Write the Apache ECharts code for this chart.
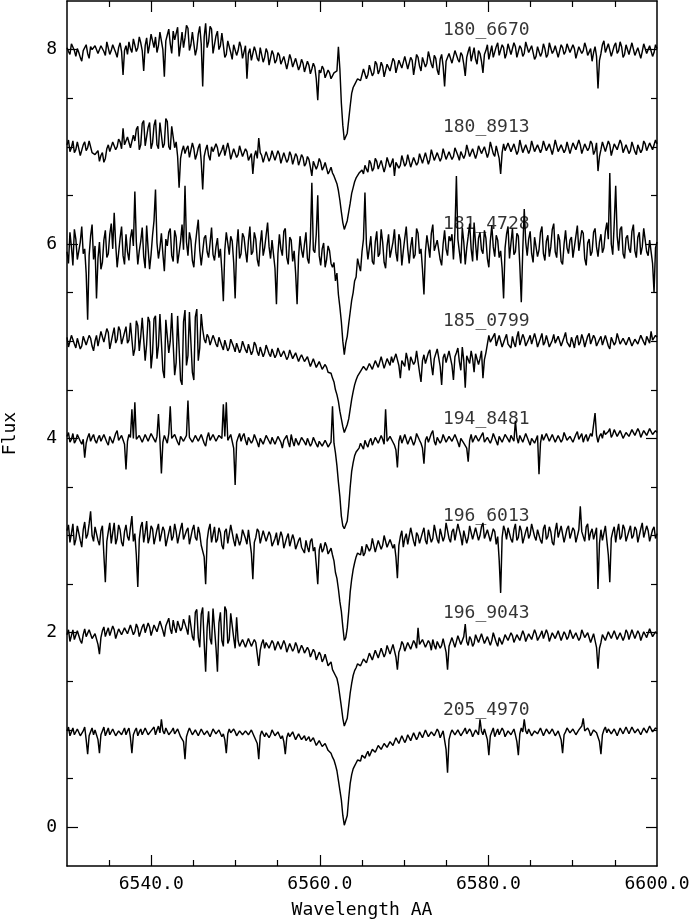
<!DOCTYPE html>
<html><head><meta charset="utf-8">
<script src="https://cdn.jsdelivr.net/npm/echarts@6/dist/echarts.min.js"></script>
<style>html,body{margin:0;padding:0;background:#fff}#c{width:692px;height:919px}</style>
</head><body><div id="c"></div>
<script>
// wavelength grid of the spectra (Angstrom)
const lambdaStart = 6530;
const lambdaStep = 0.175;

const spectrumNames = ['180_6670','180_8913','181_4728','185_0799','194_8481','196_6013','196_9043','205_4970'];
const labelLevels = [8.2, 7.2, 6.2, 5.2, 4.2, 3.2, 2.2, 1.2];
const labelWavelength = 6574.6;

const flux_180_6670 = [
8.02,7.98,7.95,8.06,8.04,7.99,7.93,8.01,7.97,7.92,7.88,7.99,8.01,8.05,7.96,7.91,8.03,8.00,7.98,8.04,
8.05,7.96,7.97,8.04,8.02,7.98,7.94,8.08,8.06,7.95,7.99,8.05,8.03,7.97,7.92,8.02,8.07,7.98,7.74,7.99,
8.04,7.95,8.08,8.01,7.97,8.11,8.10,7.98,8.02,8.13,8.07,7.99,7.78,8.04,8.12,7.96,8.05,8.16,8.14,8.02,
8.13,7.97,8.04,8.18,8.17,8.00,7.72,8.09,8.15,8.21,8.06,7.96,8.19,8.10,8.08,8.23,7.93,8.05,8.18,8.02,
8.12,8.25,8.22,7.99,8.05,8.18,8.20,7.94,8.01,8.16,8.24,8.06,7.62,8.13,8.27,8.02,8.08,8.24,8.21,7.96,
7.98,8.14,8.19,8.00,8.04,8.17,8.15,7.92,7.95,8.09,8.10,7.97,7.90,8.05,8.07,7.94,7.99,8.08,8.03,7.91,
7.93,8.04,7.70,7.96,8.01,7.89,7.90,8.03,7.98,7.91,7.88,8.02,8.00,7.87,7.92,8.01,7.97,7.84,7.86,7.99,
7.95,7.86,7.89,7.97,7.94,7.85,7.84,7.93,7.92,7.80,7.87,7.95,7.90,7.82,7.81,7.91,7.89,7.79,7.83,7.90,
7.86,7.77,7.78,7.88,7.84,7.75,7.80,7.86,7.82,7.70,7.48,7.79,7.76,7.83,7.80,7.71,7.72,7.79,7.76,7.70,
7.71,7.76,7.74,7.78,8.03,7.80,7.45,7.22,7.07,7.06,7.14,7.28,7.42,7.55,7.61,7.64,7.66,7.70,7.72,7.68,
7.69,7.80,7.78,7.70,7.74,7.84,7.82,7.73,7.76,7.88,7.85,7.75,7.79,7.87,7.83,7.72,7.74,7.85,7.86,7.78,
7.80,7.91,7.88,7.76,7.77,7.89,7.90,7.81,7.83,7.93,7.94,7.80,7.79,7.92,7.89,7.74,7.84,7.95,7.92,7.83,
7.78,7.92,7.93,7.82,7.86,7.98,7.97,7.85,7.81,7.94,7.91,7.79,7.74,7.90,7.95,7.83,7.62,7.88,7.90,7.96,
7.96,7.86,7.84,7.99,8.01,7.90,7.87,7.97,7.94,7.85,7.73,7.92,7.98,8.03,7.88,7.95,8.02,7.90,7.85,7.99,
7.96,7.88,7.76,7.95,7.99,8.05,7.90,7.97,8.04,7.92,7.93,8.03,8.07,7.94,7.95,8.05,8.02,7.91,7.96,8.06,
8.05,7.95,7.97,8.07,8.03,7.92,7.94,8.04,8.01,7.93,7.96,8.08,8.06,7.97,7.98,8.04,8.02,7.90,7.93,8.03,
8.04,7.93,7.97,8.06,8.01,7.92,7.95,8.07,8.05,7.96,7.99,8.04,8.03,7.92,7.94,8.05,8.02,7.95,7.98,8.06,
8.06,7.97,7.96,8.05,8.01,7.91,7.93,8.03,8.04,7.96,7.99,8.07,8.02,7.94,7.95,8.01,7.88,7.97,8.03,7.93,
7.60,7.89,7.96,8.05,8.09,7.97,7.98,8.06,8.05,7.93,7.94,8.04,8.07,7.96,7.99,8.08,8.03,7.92,7.95,8.05,
8.04,7.95,7.97,8.07,8.06,7.94,7.92,8.02,8.03,7.91,7.98,8.06,8.05,7.96,7.94,8.04,8.02,7.93,7.97,8.05,
8.01];

const flux_180_8913 = [
7.02,7.07,6.95,6.99,7.06,6.94,6.97,7.05,7.03,6.91,6.93,7.02,7.05,6.96,6.99,7.06,7.04,6.94,6.96,6.92,
6.90,6.96,6.85,6.91,6.94,6.84,6.88,6.98,7.02,6.95,6.96,7.05,7.07,6.97,7.00,7.08,7.05,6.98,7.19,7.02,
7.01,7.10,7.08,6.99,6.98,7.12,7.06,7.18,7.21,6.97,7.02,7.24,7.27,7.01,6.99,7.20,7.25,6.98,7.04,7.22,
7.28,7.02,6.98,7.25,7.23,6.99,7.03,7.29,7.26,7.00,6.97,7.21,7.22,6.99,7.05,6.90,6.58,6.88,6.96,7.01,
6.93,6.98,7.01,6.89,6.90,7.04,6.98,6.87,6.92,6.99,7.03,6.85,6.56,6.90,6.97,7.02,6.91,6.86,7.00,6.95,
6.94,7.03,6.99,6.90,6.89,6.97,7.02,6.91,6.93,7.04,6.97,6.87,6.88,6.98,6.96,6.89,6.92,7.01,6.99,6.90,
6.90,6.98,6.95,6.86,6.87,6.93,6.72,6.90,6.96,6.88,7.09,6.94,6.91,6.84,6.86,6.95,6.94,6.85,6.89,6.96,
6.95,6.86,6.88,6.96,6.92,6.83,6.85,6.94,6.93,6.84,6.87,6.95,6.91,6.82,6.84,6.93,6.90,6.81,6.86,6.92,
6.89,6.80,6.83,6.90,6.87,6.79,6.70,6.85,6.86,6.77,6.81,6.88,6.84,6.76,6.79,6.84,6.78,6.72,6.75,6.79,
6.73,6.70,6.68,6.62,6.55,6.45,6.33,6.22,6.15,6.17,6.24,6.33,6.42,6.52,6.58,6.64,6.68,6.66,6.73,6.71,
6.76,6.72,6.81,6.77,6.74,6.86,6.83,6.75,6.78,6.88,6.85,6.77,6.76,6.86,6.84,6.74,6.80,6.89,6.87,6.79,
6.79,6.88,6.70,6.84,6.86,6.78,6.81,6.91,6.89,6.80,6.83,6.92,6.90,6.79,6.80,6.89,6.88,6.81,6.84,6.93,
6.91,6.83,6.85,6.94,6.93,6.82,6.87,6.97,6.95,6.86,6.84,6.94,6.92,6.85,6.89,6.98,6.96,6.87,6.88,6.95,
6.94,6.87,6.90,6.99,7.00,6.91,6.86,6.95,6.97,6.88,6.92,7.02,7.01,6.90,6.89,6.98,6.96,6.88,6.93,7.01,
7.02,6.93,6.91,7.00,6.98,6.89,6.94,7.05,7.04,6.93,6.90,7.01,6.99,6.88,6.72,6.94,7.03,6.96,6.95,7.04,
7.05,6.95,6.93,7.03,7.01,6.92,6.96,7.07,7.06,6.94,6.92,7.02,7.03,6.93,6.97,7.06,7.05,6.95,6.94,7.02,
7.04,6.94,6.98,7.06,7.07,6.96,6.95,7.03,7.02,6.92,6.99,7.07,7.06,6.95,6.93,7.02,7.04,6.94,6.97,7.05,
7.03,6.93,6.95,7.04,7.06,6.97,6.98,7.07,7.02,6.93,6.94,7.03,7.05,6.96,6.99,7.06,7.03,6.92,6.96,7.04,
6.75,6.90,6.97,7.05,7.04,6.95,6.96,7.06,7.02,6.91,6.93,7.03,7.05,6.97,6.98,7.07,7.03,6.94,6.95,7.02,
7.01,6.93,6.96,7.05,7.04,6.95,6.92,7.02,7.00,6.94,6.97,7.06,7.03,6.96,6.95,7.04,7.06,6.97,6.98,7.07,
7.03];

const flux_181_4728 = [
5.92,5.80,6.12,5.97,5.78,6.15,6.05,5.84,5.86,6.02,6.18,5.90,5.95,5.70,5.22,5.88,6.08,6.20,5.84,5.98,
5.44,5.85,6.02,5.74,5.81,6.04,6.14,5.86,5.90,6.10,6.21,5.95,6.32,6.00,5.76,5.91,6.06,6.18,5.88,5.79,
6.10,5.92,5.83,6.06,6.15,5.98,6.54,6.02,5.79,5.93,6.03,6.17,5.87,5.75,6.19,5.95,5.74,5.89,6.09,6.24,
6.56,6.01,5.85,5.96,6.11,5.90,5.72,6.05,5.98,6.12,6.16,5.88,5.82,6.14,6.07,5.80,5.91,6.03,6.20,5.94,
6.60,6.02,5.88,6.12,6.04,5.83,5.76,5.99,6.13,6.25,5.93,5.78,5.80,6.06,6.09,5.92,5.86,6.01,6.17,5.89,
5.83,5.97,6.06,5.86,5.95,5.72,5.41,5.94,6.12,6.01,5.89,6.08,6.03,5.81,5.44,5.96,6.15,5.85,5.90,6.11,
6.07,5.93,5.81,6.03,6.18,5.89,5.92,6.12,6.05,5.84,5.77,6.00,6.14,5.88,5.96,6.09,6.22,5.97,5.85,6.04,
6.02,5.75,5.38,5.90,6.10,5.95,5.88,6.13,6.16,5.86,5.79,6.07,6.04,5.82,5.93,5.70,5.38,5.87,6.08,5.94,
5.86,6.00,6.12,5.85,5.80,6.05,6.63,5.94,5.91,6.10,6.50,5.88,5.78,5.95,6.01,5.76,5.84,5.98,5.93,5.80,
5.76,5.81,5.62,5.70,5.48,5.35,5.20,5.00,4.86,4.98,5.05,5.18,5.30,5.42,5.50,5.62,5.66,5.85,5.78,5.72,
5.92,6.05,6.53,6.00,5.84,5.96,6.08,5.82,5.79,6.02,6.13,5.87,5.90,6.15,6.02,5.81,5.75,5.98,6.10,5.86,
5.87,6.02,6.15,5.91,5.82,6.10,6.04,5.78,5.93,6.06,6.18,5.95,5.80,5.97,6.07,5.85,5.89,6.16,6.11,5.90,
5.95,5.74,5.48,5.92,6.09,5.98,5.86,6.11,6.20,5.93,5.91,6.04,6.05,5.84,5.78,6.00,6.14,5.95,5.88,6.08,
6.03,6.10,5.84,6.12,6.70,6.05,5.92,5.80,6.17,6.02,5.79,5.96,6.08,6.21,5.95,5.82,6.22,6.00,5.83,6.06,
6.12,5.94,5.90,6.14,6.06,5.85,5.76,6.03,6.19,5.97,5.87,6.09,6.04,5.86,5.93,5.75,5.44,5.96,6.10,6.18,
5.85,6.01,6.16,5.89,5.92,6.11,6.08,5.78,5.40,5.94,6.36,6.02,5.88,6.05,6.13,5.90,5.81,6.07,6.06,5.87,
5.94,6.12,6.18,5.90,5.83,6.03,6.09,5.87,5.97,6.15,6.21,5.92,5.86,6.10,6.04,5.82,5.79,6.00,6.14,5.96,
5.90,6.04,6.07,5.86,5.84,6.08,6.19,5.93,5.95,6.14,6.11,5.85,5.78,6.01,6.05,5.88,5.92,6.12,6.16,5.97,
5.87,6.02,6.10,5.91,5.96,6.13,6.22,6.05,6.73,6.00,5.89,6.21,6.60,6.08,5.93,6.15,6.18,5.90,5.85,6.06,
6.09,5.95,5.91,6.13,6.20,5.93,5.86,6.07,6.12,5.89,5.97,6.16,6.15,5.92,5.88,6.04,6.05,5.80,5.50,5.96,
6.02];

const flux_185_0799 = [
5.04,4.94,4.96,5.06,5.08,4.97,4.93,5.03,5.01,4.92,4.95,5.05,5.07,4.96,4.98,5.06,5.03,4.95,4.90,5.00,
5.06,4.95,4.97,5.10,5.12,4.99,5.00,5.13,5.09,4.92,4.94,5.07,5.14,4.98,5.02,5.15,5.11,4.97,4.96,5.09,
5.15,4.98,5.01,5.19,5.18,4.85,4.92,5.21,5.16,4.90,5.05,5.24,5.22,4.80,4.97,5.25,5.20,4.72,4.88,5.23,
5.26,4.82,4.95,5.28,5.30,4.70,4.62,5.22,5.24,4.88,5.00,5.29,5.31,4.65,4.78,5.26,5.27,4.60,4.55,5.20,
5.32,4.75,4.85,5.30,5.29,4.68,4.60,5.25,5.33,4.80,4.93,5.28,5.12,5.02,4.98,5.07,5.04,4.96,4.95,5.06,
5.02,4.97,4.94,5.04,5.06,4.95,4.91,5.01,4.99,4.90,4.93,5.02,5.03,4.94,4.89,4.98,4.97,4.88,4.92,5.00,
4.98,4.91,4.88,4.97,4.95,4.86,4.90,4.99,4.96,4.89,4.85,4.94,4.93,4.84,4.88,4.96,4.94,4.87,4.84,4.92,
4.91,4.83,4.86,4.93,4.92,4.84,4.82,4.90,4.89,4.81,4.84,4.91,4.90,4.82,4.80,4.88,4.87,4.79,4.83,4.86,
4.85,4.79,4.78,4.84,4.83,4.74,4.76,4.82,4.81,4.73,4.72,4.79,4.77,4.71,4.70,4.76,4.73,4.68,4.66,4.67,
4.62,4.58,4.50,4.45,4.38,4.28,4.20,4.12,4.06,4.08,4.14,4.20,4.30,4.40,4.48,4.55,4.60,4.64,4.66,4.69,
4.70,4.74,4.76,4.70,4.68,4.77,4.79,4.71,4.72,4.80,4.81,4.73,4.75,4.84,4.83,4.72,4.74,4.82,4.80,4.75,
4.84,4.78,4.76,4.87,4.86,4.75,4.62,4.80,4.82,4.74,4.88,4.81,4.70,4.84,4.85,4.76,4.79,4.90,4.89,4.68,
4.58,4.80,4.86,4.77,4.78,4.88,4.91,4.76,4.65,4.82,4.84,4.92,4.90,4.74,4.55,4.83,4.87,4.78,4.80,4.90,
4.92,4.75,4.60,4.84,4.88,4.93,4.79,4.70,4.94,4.80,4.52,4.85,4.86,4.77,4.90,4.82,4.68,4.87,4.89,4.76,
4.82,4.90,4.62,4.81,4.88,4.97,5.06,4.99,4.98,5.05,5.08,4.95,4.96,5.06,5.04,4.94,4.95,5.03,5.07,4.97,
4.99,4.93,5.05,4.98,4.94,5.04,5.10,4.96,4.97,5.07,5.03,4.95,4.93,5.02,5.06,4.97,4.98,5.08,5.02,4.94,
4.95,5.03,5.08,4.96,4.99,5.06,5.04,4.94,4.92,5.01,5.07,4.98,4.97,5.05,5.03,4.95,4.94,5.04,5.09,4.99,
4.98,4.94,5.04,4.99,4.93,5.03,5.06,4.96,4.99,5.07,5.02,4.94,4.95,5.05,5.08,4.97,4.97,5.06,5.03,4.95,
4.94,5.02,5.05,4.96,4.98,5.06,5.07,4.95,4.92,5.04,5.03,4.96,4.99,5.08,5.06,4.97,4.95,5.03,5.02,4.96,
4.97,5.04,5.05,4.95,4.93,5.02,5.04,4.97,4.98,5.06,5.08,4.99,4.96,5.05,5.03,4.98,5.10,5.01,4.99,5.06,
5.04];

const flux_194_8481 = [
4.02,4.06,3.96,3.99,4.05,3.95,3.98,4.04,4.03,3.97,3.94,3.99,3.80,3.95,4.01,4.05,3.97,4.01,4.04,3.98,
3.95,4.00,4.03,3.97,3.99,4.04,4.06,3.96,3.93,4.02,4.01,3.95,3.97,4.05,4.08,3.98,3.96,4.03,4.02,3.94,
3.68,3.97,4.04,4.01,4.30,4.00,4.37,3.99,3.97,4.03,4.05,3.96,3.94,4.04,4.02,3.97,3.98,4.05,4.06,3.99,
3.96,4.02,4.25,3.98,3.64,3.96,4.03,3.99,3.95,4.05,4.33,4.00,3.99,4.04,4.04,3.96,3.93,4.02,4.01,3.97,
3.97,4.03,4.39,4.01,4.02,3.96,3.94,4.03,4.05,3.97,3.98,4.04,4.03,3.95,3.92,4.01,4.06,3.98,3.99,4.04,
4.02,3.97,3.95,4.03,4.04,4.00,4.35,4.02,4.37,3.98,3.96,4.04,4.03,3.90,3.52,3.96,4.01,4.05,3.97,4.02,
4.05,3.98,3.93,4.01,4.02,3.95,3.98,4.04,4.06,3.96,3.91,4.00,4.01,3.94,3.96,4.03,4.04,3.97,3.94,4.01,
4.00,3.94,3.95,4.02,4.03,3.96,3.90,3.98,3.99,4.03,3.96,3.91,4.04,3.97,3.92,4.00,3.98,3.93,3.94,4.01,
4.01,3.96,3.93,4.00,3.98,3.92,3.95,4.01,4.00,3.94,3.91,3.97,3.97,3.92,3.94,3.98,3.95,3.91,3.93,3.96,
4.33,3.95,3.85,3.72,3.55,3.40,3.20,3.10,3.07,3.09,3.15,3.30,3.50,3.66,3.75,3.82,3.86,3.88,3.90,3.95,
3.93,3.89,3.98,3.94,3.91,3.97,4.00,3.93,3.94,4.01,4.02,3.95,3.96,4.03,3.99,3.94,4.30,3.97,3.95,4.02,
4.01,3.96,3.93,3.88,3.70,3.97,4.03,3.95,3.96,4.04,4.05,3.94,3.92,4.02,4.01,3.93,3.97,4.05,4.04,3.98,
3.95,3.90,3.74,3.98,4.02,3.96,3.97,4.05,4.08,3.97,3.93,4.01,4.03,3.95,3.98,4.04,4.06,3.96,3.94,4.02,
4.02,3.97,3.96,4.04,4.05,3.96,3.91,4.00,4.01,3.95,3.97,3.90,3.76,3.98,4.04,3.96,3.95,4.03,4.03,3.97,
3.98,4.03,4.06,3.96,3.94,4.01,4.02,3.95,3.99,4.05,4.07,3.97,3.93,4.02,4.03,3.96,3.97,4.04,4.05,3.99,
3.96,4.03,4.02,3.97,4.18,4.01,3.95,4.03,4.04,3.96,3.98,4.05,4.06,3.97,3.93,4.00,4.01,3.95,3.97,4.03,
3.63,3.95,4.04,3.98,3.96,4.05,4.03,3.97,3.98,4.04,4.06,3.96,3.94,4.03,4.02,3.96,3.99,4.06,4.05,3.98,
3.97,4.02,4.03,3.96,3.95,4.04,4.07,3.99,4.00,4.05,3.96,4.01,4.04,3.97,3.98,4.05,4.02,4.00,4.26,4.03,
3.96,4.02,4.05,4.00,4.08,4.04,4.02,4.07,4.10,4.01,4.04,4.09,4.09,4.02,4.03,4.08,4.07,4.00,4.01,4.06,
4.08,4.02,4.03,4.09,4.10,4.03,4.04,4.10,4.07,4.01,4.02,4.08,4.09,4.03,4.05,4.10,4.11,4.04,4.03,4.08,
4.06];

const flux_196_6013 = [
3.05,3.11,2.93,3.02,3.12,2.90,2.96,3.10,3.08,2.95,2.88,3.06,3.14,2.97,3.01,3.12,3.25,3.00,2.94,3.09,
3.07,2.95,2.90,3.05,3.10,2.80,2.52,2.94,3.04,3.13,2.92,3.03,3.13,2.91,2.97,3.11,3.06,2.93,2.89,3.04,
3.11,2.99,2.95,3.08,3.20,2.94,3.02,2.80,2.47,2.96,3.09,3.14,2.93,3.03,3.15,2.92,2.98,3.10,3.07,2.91,
2.91,3.06,3.12,2.94,2.96,3.09,3.05,2.89,2.87,3.03,3.10,2.95,2.99,3.12,3.04,2.92,2.90,3.07,3.13,2.96,
2.97,3.05,3.08,2.91,2.92,3.06,3.11,2.98,2.95,3.09,3.02,2.90,2.88,2.78,2.50,2.95,3.06,3.12,2.93,3.01,
3.09,2.93,2.96,3.08,3.03,2.90,2.86,3.04,3.07,2.92,2.94,3.11,3.10,2.95,2.89,3.02,3.01,2.90,2.95,3.06,
3.05,2.97,2.91,3.06,3.08,2.82,2.55,2.93,2.98,3.07,3.04,2.92,2.90,3.05,3.07,2.94,2.93,3.04,3.00,2.89,
2.88,2.97,3.03,2.90,2.92,3.04,2.99,2.87,2.85,2.98,3.02,2.89,2.91,3.01,2.96,2.86,2.84,2.95,2.98,2.88,
2.90,2.82,2.95,2.88,2.83,2.94,2.97,2.84,2.88,2.70,2.50,2.85,2.92,2.83,2.86,2.93,2.89,2.81,2.84,2.87,
2.80,2.74,2.62,2.56,2.45,2.32,2.22,2.06,1.92,1.95,2.05,2.22,2.42,2.55,2.65,2.72,2.78,2.82,2.84,2.80,
2.89,2.79,2.82,2.91,2.93,2.84,2.87,2.97,2.96,2.83,2.85,2.95,2.94,2.86,2.90,3.00,2.98,2.88,2.86,2.96,
2.95,2.87,2.91,2.78,2.56,2.90,2.99,3.05,2.88,2.97,3.02,2.91,2.93,3.08,3.06,2.94,2.89,3.03,3.00,2.92,
2.94,3.03,3.08,2.95,2.91,3.06,3.04,2.93,2.97,3.11,3.10,2.96,2.92,3.07,3.05,2.94,2.99,3.13,3.12,2.97,
2.93,3.04,3.07,2.95,2.96,3.12,3.14,2.99,2.90,3.05,3.03,2.92,2.98,3.10,3.11,2.96,2.94,3.08,3.06,2.95,
3.00,3.09,3.13,2.97,2.95,3.06,3.08,2.94,2.92,3.07,3.04,2.91,2.99,2.75,2.41,2.98,3.10,3.05,2.96,3.08,
3.07,2.96,2.93,3.06,3.12,2.95,2.98,3.10,3.05,2.92,2.91,3.04,3.09,2.97,3.01,3.12,3.14,2.99,2.95,3.06,
3.06,2.95,2.92,3.07,3.11,2.96,2.99,3.09,3.04,2.93,2.90,3.05,3.13,2.98,2.97,3.10,3.08,2.93,2.94,3.07,
3.10,2.97,2.96,3.08,3.05,2.93,2.91,3.06,3.30,3.04,3.02,2.94,3.09,3.12,2.95,3.03,3.07,2.96,2.98,3.08,
2.45,2.92,3.06,2.95,2.97,3.10,3.11,2.80,2.52,2.97,3.04,3.09,2.93,3.04,3.12,2.96,2.99,3.11,3.07,2.94,
2.95,3.05,3.10,2.97,3.00,3.09,3.06,2.93,2.92,3.07,3.13,2.98,2.98,3.10,3.05,2.94,2.94,3.06,3.09,2.97,
3.02];

const flux_196_9043 = [
1.98,2.03,1.91,1.97,2.03,1.93,1.94,2.02,2.00,1.92,1.89,1.98,2.04,1.96,1.95,2.03,2.01,1.94,1.93,1.99,
1.97,1.88,1.78,1.95,2.02,2.06,1.96,2.01,2.05,1.97,1.99,2.07,2.03,1.94,1.95,2.04,2.06,1.98,2.00,2.05,
2.04,1.99,1.97,2.08,2.07,1.98,2.01,2.09,2.05,1.96,1.98,2.06,2.09,2.00,2.02,2.10,2.06,1.97,1.99,2.08,
2.08,2.01,2.03,2.12,2.11,2.02,1.96,2.07,2.09,2.15,2.04,1.99,2.13,2.05,2.00,2.12,2.10,2.02,2.05,2.14,
2.14,2.04,1.98,2.18,2.20,1.96,1.92,2.21,2.24,1.95,1.85,2.19,2.26,1.90,1.60,2.05,2.22,1.94,1.88,2.25,
2.25,1.85,1.60,2.10,2.21,1.92,1.86,2.27,2.23,1.89,1.93,2.20,2.18,1.95,1.84,2.16,1.92,1.86,1.87,1.93,
1.91,1.85,1.86,1.94,1.93,1.86,1.88,1.93,1.90,1.78,1.66,1.82,1.89,1.93,1.84,1.90,1.91,1.84,1.86,1.92,
1.89,1.82,1.83,1.91,1.90,1.83,1.85,1.92,1.88,1.80,1.81,1.89,1.87,1.81,1.84,1.90,1.86,1.79,1.80,1.87,
1.84,1.79,1.78,1.85,1.82,1.75,1.76,1.83,1.80,1.72,1.74,1.80,1.77,1.70,1.73,1.78,1.72,1.66,1.68,1.70,
1.62,1.60,1.56,1.53,1.46,1.35,1.24,1.12,1.04,1.06,1.12,1.25,1.38,1.48,1.56,1.61,1.64,1.68,1.70,1.66,
1.68,1.73,1.75,1.69,1.71,1.79,1.78,1.72,1.74,1.82,1.81,1.74,1.76,1.84,1.83,1.75,1.79,1.87,1.85,1.78,
1.80,1.88,1.86,1.75,1.62,1.80,1.84,1.91,1.88,1.81,1.82,1.90,1.90,1.83,1.85,1.92,1.89,1.84,2.05,1.88,
1.86,1.93,1.91,1.85,1.84,1.92,1.89,1.82,1.93,1.87,1.83,1.91,1.90,1.84,1.87,1.94,1.92,1.80,1.62,1.86,
1.88,1.95,1.94,1.85,1.86,1.97,1.95,1.88,1.90,1.96,2.09,1.91,1.87,1.96,1.93,1.86,1.89,1.98,1.96,1.90,
1.91,1.99,1.97,1.89,1.88,1.96,1.95,1.87,1.92,2.00,1.98,1.90,1.86,1.95,1.94,1.88,1.90,1.98,1.99,1.92,
1.93,2.00,1.97,1.90,1.89,1.98,2.00,1.92,1.94,2.02,1.98,1.91,1.91,1.99,2.01,1.93,1.95,2.03,1.99,1.92,
1.92,1.98,2.02,1.94,1.96,2.03,1.99,1.91,1.93,2.00,2.01,1.94,1.95,2.02,2.00,1.92,1.94,2.01,1.98,1.93,
1.96,2.03,2.01,1.94,1.93,2.00,1.99,1.92,1.95,2.03,2.02,1.95,1.94,2.00,1.98,1.90,1.92,1.99,1.97,1.85,
1.63,1.84,1.90,1.98,1.97,1.92,1.93,2.01,2.00,1.94,1.95,2.02,2.01,1.93,1.94,2.00,1.99,1.92,1.96,2.03,
2.00,1.93,1.95,2.03,2.02,1.94,1.96,2.02,1.99,1.92,1.94,2.01,2.01,1.95,1.97,2.04,2.03,1.96,1.95,2.01,
1.99];

const flux_205_4970 = [
0.99,1.03,0.94,0.98,1.02,0.95,0.96,1.01,1.00,0.94,0.93,0.99,1.03,0.90,0.75,0.94,0.98,1.02,0.95,1.00,
1.01,0.90,0.76,0.95,0.99,1.03,0.94,0.98,1.02,0.95,0.96,1.01,1.00,0.94,0.92,0.99,1.01,0.95,0.97,1.02,
0.95,0.99,1.02,0.92,0.76,0.95,0.99,1.02,0.94,0.98,1.01,0.95,0.96,1.02,1.03,0.95,0.93,0.99,0.99,1.03,
0.95,1.00,1.04,0.97,1.11,0.99,0.96,1.02,1.00,0.95,0.93,0.99,1.02,0.96,0.97,1.01,0.99,0.93,0.94,0.88,
0.70,0.93,0.98,1.02,1.01,0.95,0.94,1.00,0.99,0.94,0.96,1.01,1.02,0.95,0.93,0.99,0.98,0.93,0.95,1.01,
1.00,0.96,0.94,1.00,0.99,0.93,0.96,0.90,0.76,0.96,1.01,0.97,0.95,1.01,0.98,0.94,0.93,0.99,1.00,0.95,
0.96,0.99,1.01,0.95,0.94,1.00,0.98,0.93,0.95,0.86,0.70,0.94,0.99,1.01,0.93,0.97,0.97,0.92,0.95,1.00,
0.99,0.94,0.92,0.98,0.96,0.91,0.94,0.88,0.75,0.92,0.97,0.93,0.93,0.98,0.96,0.90,0.91,0.96,0.95,0.90,
0.92,0.94,0.89,0.91,0.93,0.88,0.87,0.92,0.90,0.84,0.85,0.89,0.88,0.83,0.82,0.86,0.84,0.79,0.78,0.76,
0.72,0.69,0.64,0.58,0.48,0.38,0.28,0.12,0.02,0.04,0.12,0.30,0.45,0.54,0.60,0.63,0.66,0.69,0.70,0.68,
0.74,0.76,0.71,0.75,0.78,0.73,0.75,0.80,0.82,0.77,0.79,0.84,0.85,0.80,0.81,0.86,0.87,0.82,0.84,0.88,
0.89,0.84,0.85,0.92,0.91,0.86,0.88,0.94,0.93,0.87,0.90,0.95,0.95,0.89,0.91,0.97,0.96,0.90,0.93,0.98,
0.98,0.92,0.94,1.00,0.99,0.93,0.92,0.98,1.00,0.94,0.95,1.01,0.98,0.92,0.93,0.99,0.97,0.80,0.56,0.90,
0.96,1.00,1.01,0.95,0.94,1.00,0.99,0.94,0.93,0.99,1.02,0.96,0.96,1.01,0.98,0.93,0.94,1.00,1.00,0.95,
1.11,0.99,0.95,1.01,1.00,0.90,0.74,0.94,0.98,1.02,0.93,0.97,1.01,0.95,0.96,1.02,0.99,0.93,0.94,0.99,
1.00,0.95,0.97,1.01,0.95,0.88,0.74,0.96,1.02,0.98,1.11,0.99,0.96,1.01,0.99,0.94,0.94,0.99,1.01,0.96,
0.97,1.02,1.00,0.94,0.95,1.01,1.02,0.96,0.96,1.01,0.99,0.94,0.93,0.99,1.01,0.90,0.76,0.95,0.98,1.02,
1.02,0.97,0.96,1.01,1.00,0.95,0.94,1.00,1.01,1.04,1.12,0.99,0.97,1.02,0.99,0.94,0.95,1.00,1.02,0.97,
0.96,0.88,0.75,0.95,1.00,1.03,0.97,1.01,1.03,0.96,0.95,1.01,0.99,0.94,0.96,1.02,1.02,0.96,0.97,1.03,
1.01,0.96,0.98,1.03,1.03,0.97,0.96,1.01,1.00,0.95,0.97,1.02,1.02,0.97,0.99,1.04,1.04,0.98,0.98,1.02,
1.01];

const spectra = [flux_180_6670, flux_180_8913, flux_181_4728, flux_185_0799,
                 flux_194_8481, flux_196_6013, flux_196_9043, flux_205_4970];

// axis ticks and labels
const xRange = [6530, 6600];
const yRange = [-0.4, 8.5];
const xLabelValues = [6540, 6560, 6580, 6600];
const xMajorTicks = [6540, 6560, 6580];
const xMinorTicks = [6535, 6545, 6550, 6555, 6565, 6570, 6575, 6585, 6590, 6595];
const yLabelValues = [0, 2, 4, 6, 8];
const yMinorTicks = [0.5, 1, 1.5, 2.5, 3, 3.5, 4.5, 5, 5.5, 6.5, 7, 7.5];

const FONT = 'DejaVu Sans Mono';
const black = '#000';

function xAxisDef(pos, ticks, len, withLabels) {
  return {
    type: 'value', position: pos, min: xRange[0], max: xRange[1],
    axisLine: { show: withLabels, onZero: false, lineStyle: { color: black, width: 1.5 } },
    splitLine: { show: false },
    axisTick: { show: true, inside: true, length: len, customValues: ticks, lineStyle: { color: black, width: 1.2 } },
    axisLabel: withLabels && pos === 'bottom' ? {
      show: true, customValues: xLabelValues, formatter: v => Number(v).toFixed(1),
      margin: 9, color: black, fontFamily: FONT, fontSize: 18
    } : { show: false },
    name: withLabels && pos === 'bottom' ? 'Wavelength AA' : '',
    nameLocation: 'middle', nameGap: 35,
    nameTextStyle: { color: black, fontFamily: FONT, fontSize: 18 }
  };
}
function yAxisDef(pos, ticks, len, withLabels) {
  return {
    type: 'value', position: pos, min: yRange[0], max: yRange[1],
    axisLine: { show: withLabels, onZero: false, lineStyle: { color: black, width: 1.5 } },
    splitLine: { show: false },
    axisTick: { show: true, inside: true, length: len, customValues: ticks, lineStyle: { color: black, width: 1.2 } },
    axisLabel: withLabels && pos === 'left' ? {
      show: true, customValues: yLabelValues, formatter: v => String(Math.round(v)),
      margin: 10, color: black, fontFamily: FONT, fontSize: 18
    } : { show: false },
    name: withLabels && pos === 'left' ? 'Flux' : '',
    nameLocation: 'middle', nameGap: 48, nameRotate: 90,
    nameTextStyle: { color: black, fontFamily: FONT, fontSize: 18 }
  };
}

const series = spectra.map((arr, k) => ({
  type: 'line', name: spectrumNames[k], xAxisIndex: 0, yAxisIndex: 0,
  symbol: 'none', showSymbol: false, silent: true, animation: false,
  data: arr.map((v, i) => [lambdaStart + i * lambdaStep, v]),
  lineStyle: { color: black, width: 1.45 }
}));
series.push({
  type: 'scatter', xAxisIndex: 0, yAxisIndex: 0, symbolSize: 0, silent: true, animation: false,
  data: spectrumNames.map((n, k) => ({ name: n, value: [labelWavelength, labelLevels[k]] })),
  label: { show: true, position: 'right', distance: 0, formatter: p => p.name,
           color: black, fontFamily: FONT, fontSize: 18 }
});

const chart = echarts.init(document.getElementById('c'), null, { renderer: 'canvas' });
chart.setOption({
  animation: false,
  backgroundColor: '#fff',
  grid: { left: 67, right: 35, top: 1, bottom: 53, containLabel: false, outerBoundsMode: 'none' },
  xAxis: [
    xAxisDef('bottom', xMajorTicks, 11, true),
    xAxisDef('bottom', xMinorTicks, 6, false),
    xAxisDef('top', xMajorTicks, 11, true),
    xAxisDef('top', xMinorTicks, 6, false)
  ],
  yAxis: [
    yAxisDef('left', yLabelValues, 11, true),
    yAxisDef('left', yMinorTicks, 6, false),
    yAxisDef('right', yLabelValues, 11, true),
    yAxisDef('right', yMinorTicks, 6, false)
  ],
  series: series
});
</script>
</body></html>
